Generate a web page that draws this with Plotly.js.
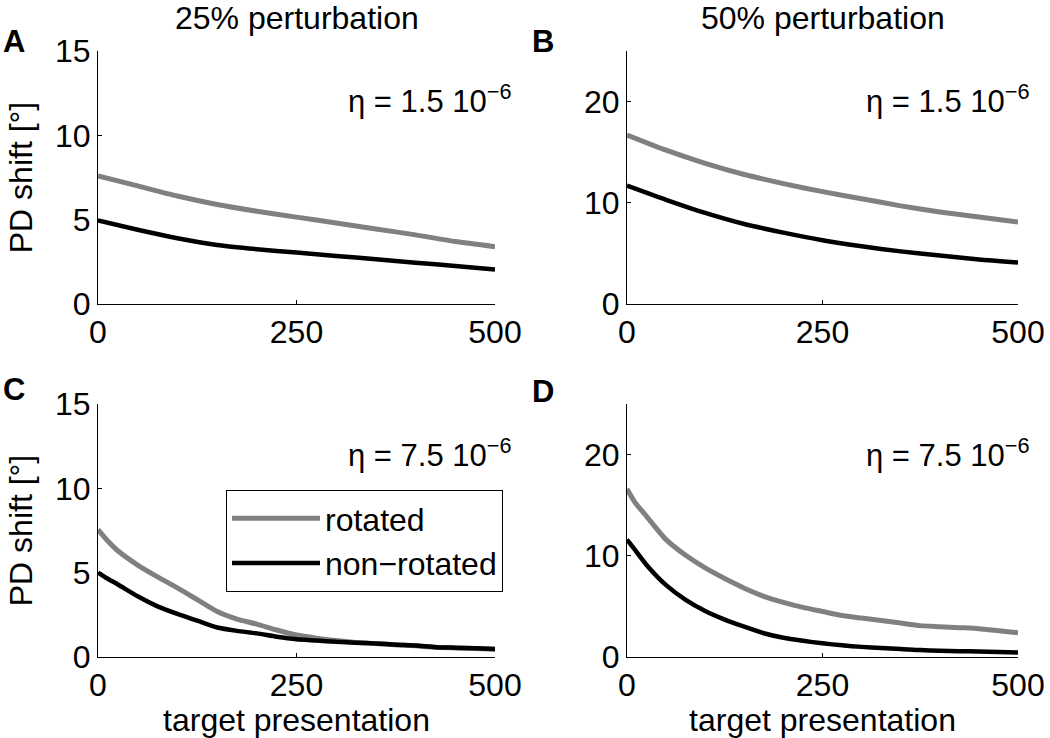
<!DOCTYPE html>
<html>
<head>
<meta charset="utf-8">
<script src="https://cdn.plot.ly/plotly-3.0.1.min.js"></script>
<style>html,body{margin:0;padding:0;background:#fff;}#chart{width:1050px;height:738px;}</style>
</head>
<body>
<div id="chart"></div>
<script>
// ---- data ----
const panelTitles = ["25% perturbation", "50% perturbation"];
const panelLetters = ["A", "B", "C", "D"];
const etaLabels = ["η = 1.5 10<sup>−6</sup>", "η = 1.5 10<sup>−6</sup>", "η = 7.5 10<sup>−6</sup>", "η = 7.5 10<sup>−6</sup>"];
const seriesNames = ["rotated", "non−rotated"];
const yTitle = "PD shift [°]";
const xTitle = "target presentation";

const xSlow = [0, 50, 100, 150, 200, 250, 300, 350, 400, 450, 500];
const xFast = [0, 10, 25, 50, 75, 100, 125, 150, 175, 200, 225, 250, 275, 300, 325, 350, 375, 400, 425, 450, 475, 500];

const A_rot    = [7.6, 7.0, 6.4, 5.9, 5.5, 5.15, 4.8, 4.45, 4.1, 3.7, 3.4];
const A_nonrot = [4.95, 4.4, 3.9, 3.5, 3.25, 3.05, 2.85, 2.65, 2.45, 2.25, 2.05];
const B_rot    = [16.7, 15.2, 13.9, 12.8, 11.9, 11.1, 10.4, 9.7, 9.1, 8.6, 8.1];
const B_nonrot = [11.7, 10.3, 9.0, 7.9, 7.05, 6.3, 5.7, 5.2, 4.8, 4.4, 4.1];
const C_rot    = [7.55, 7.0, 6.3, 5.45, 4.75, 4.1, 3.4, 2.7, 2.25, 1.95, 1.6, 1.3, 1.12, 0.98, 0.86, 0.8, 0.72, 0.66, 0.58, 0.54, 0.5, 0.46];
const C_nonrot = [5.0, 4.7, 4.3, 3.6, 3.0, 2.55, 2.15, 1.75, 1.55, 1.4, 1.2, 1.05, 0.98, 0.9, 0.85, 0.8, 0.73, 0.68, 0.58, 0.55, 0.52, 0.47];
const D_rot    = [16.6, 15.3, 13.9, 11.6, 10.05, 8.8, 7.75, 6.8, 6.0, 5.4, 4.9, 4.5, 4.1, 3.85, 3.6, 3.35, 3.1, 3.0, 2.9, 2.8, 2.6, 2.4];
const D_nonrot = [11.6, 10.6, 9.1, 7.1, 5.65, 4.55, 3.7, 3.0, 2.35, 1.9, 1.6, 1.35, 1.15, 1.0, 0.9, 0.8, 0.68, 0.62, 0.58, 0.55, 0.5, 0.45];

const xTicks = [0, 250, 500];
const yTicksLow = [0, 5, 10, 15];
const yTicksHigh = [0, 10, 20];

// ---- styling / layout ----
const W = 1050, H = 738;
const FONT = "Liberation Sans, Arial, Helvetica, sans-serif";
const GREY = "#808080", BLACK = "#000000";
const colL = [98 / W, 495 / W], colR = [627 / W, 1018 / W];
const rowT = [1 - 304 / H, 1 - 51 / H], rowB = [1 - 657 / H, 1 - 404 / H];

function pair(x, rot, non, xa, ya, show) {
  return [
    {x: x, y: rot, xaxis: xa, yaxis: ya, type: "scatter", mode: "lines", name: seriesNames[0],
     line: {color: GREY, width: 5, shape: "spline", smoothing: 0.6}, showlegend: show, legendrank: 1},
    {x: x, y: non, xaxis: xa, yaxis: ya, type: "scatter", mode: "lines", name: seriesNames[1],
     line: {color: BLACK, width: 4.5, shape: "spline", smoothing: 0.6}, showlegend: show, legendrank: 2}
  ];
}
const data = [].concat(
  pair(xSlow, A_rot, A_nonrot, "x", "y", false),
  pair(xSlow, B_rot, B_nonrot, "x2", "y2", false),
  pair(xFast, C_rot, C_nonrot, "x3", "y3", true),
  pair(xFast, D_rot, D_nonrot, "x4", "y4", false)
);

function xax(dom, anchor, withTitle) {
  const a = {domain: dom, anchor: anchor, range: [0, 500], tickmode: "array", tickvals: xTicks,
    showline: true, linecolor: "#000", linewidth: 1, ticks: "inside", ticklen: 4, tickcolor: "#000",
    showgrid: false, zeroline: false, automargin: false, tickfont: {family: FONT, size: 32, color: "#000"}};
  if (withTitle) a.title = {text: xTitle, font: {family: FONT, size: 32, color: "#000"}, standoff: 2};
  return a;
}
function yax(dom, anchor, range, ticks, withTitle) {
  const a = {domain: dom, anchor: anchor, range: range, tickmode: "array", tickvals: ticks,
    showline: true, linecolor: "#000", linewidth: 1, ticks: "inside", ticklen: 4, tickcolor: "#000",
    showgrid: false, zeroline: false, automargin: false, tickfont: {family: FONT, size: 32, color: "#000"}};
  if (withTitle) a.title = {text: yTitle, font: {family: FONT, size: 32, color: "#000"}, standoff: 12};
  return a;
}

const ann = [];
ann.push({text: panelTitles[0], xref: "paper", yref: "paper", x: (colL[0] + colL[1]) / 2, y: 1 - 18 / H,
  xanchor: "center", yanchor: "middle", showarrow: false, font: {family: FONT, size: 32, color: "#000"}});
ann.push({text: panelTitles[1], xref: "paper", yref: "paper", x: (colR[0] + colR[1]) / 2, y: 1 - 18 / H,
  xanchor: "center", yanchor: "middle", showarrow: false, font: {family: FONT, size: 32, color: "#000"}});
const letterPos = [[14, 41], [543, 42], [14, 389], [543, 391]];
panelLetters.forEach((t, i) => ann.push({text: "<b>" + t + "</b>", xref: "paper", yref: "paper",
  x: letterPos[i][0] / W, y: 1 - letterPos[i][1] / H, xanchor: "center", yanchor: "middle", showarrow: false,
  font: {family: FONT, size: 31, color: "#000"}}));
const etaPos = [[514, 121], [1032, 121], [514, 475], [1032, 475]];
etaLabels.forEach((t, i) => ann.push({text: t, xref: "paper", yref: "paper",
  x: etaPos[i][0] / W, y: 1 - etaPos[i][1] / H, xanchor: "right", yanchor: "bottom", showarrow: false,
  font: {family: FONT, size: 31, color: "#000"}}));

const layout = {
  width: W, height: H, margin: {l: 0, r: 0, t: 0, b: 0, pad: 0},
  paper_bgcolor: "#fff", plot_bgcolor: "#fff",
  font: {family: FONT, size: 32, color: "#000"},
  xaxis: xax(colL, "y", false), yaxis: yax(rowT, "x", [0, 15], yTicksLow, true),
  xaxis2: xax(colR, "y2", false), yaxis2: yax(rowT, "x2", [0, 25], yTicksHigh, false),
  xaxis3: xax(colL, "y3", true), yaxis3: yax(rowB, "x3", [0, 15], yTicksLow, true),
  xaxis4: xax(colR, "y4", true), yaxis4: yax(rowB, "x4", [0, 25], yTicksHigh, false),
  showlegend: true,
  legend: {x: 226 / W, y: 1 - 490 / H, xanchor: "left", yanchor: "top", bgcolor: "#fff",
    bordercolor: "#000", borderwidth: 1, font: {family: FONT, size: 32, color: "#000"},
    tracegroupgap: 0, itemwidth: 88},
  annotations: ann
};
Plotly.newPlot("chart", data, layout, {staticPlot: true, displayModeBar: false});
</script>
</body>
</html>
